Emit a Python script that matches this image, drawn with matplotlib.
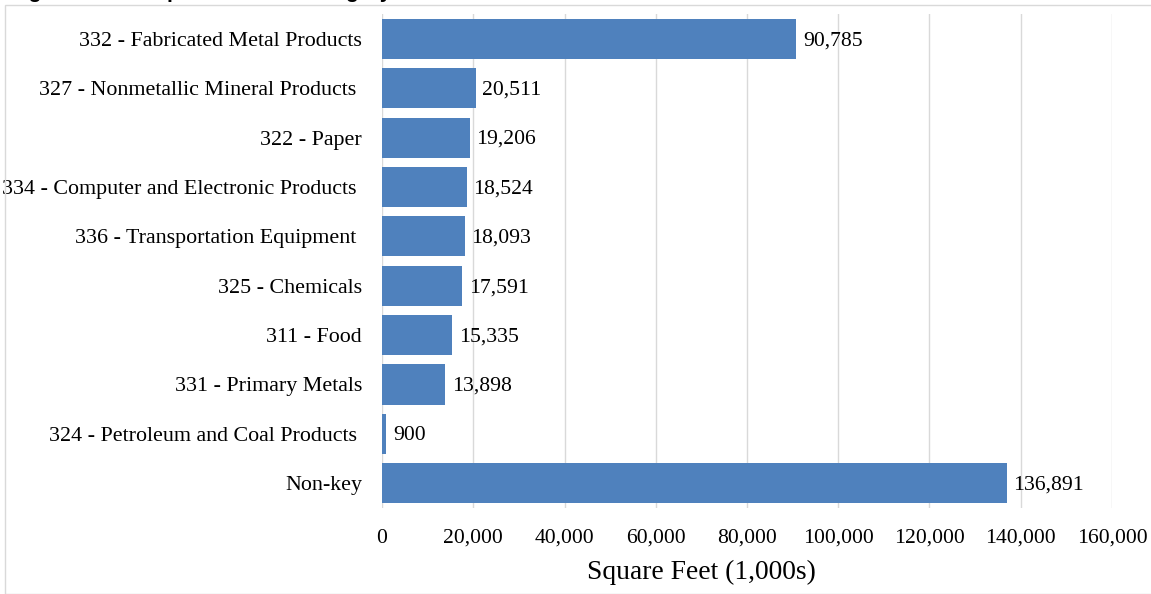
import matplotlib.pyplot as plt
from matplotlib.patches import Rectangle
from matplotlib.ticker import FuncFormatter

categories = [
    "332 - Fabricated Metal Products",
    "327 - Nonmetallic Mineral Products ",
    "322 - Paper",
    "334 - Computer and Electronic Products ",
    "336 - Transportation Equipment ",
    "325 - Chemicals",
    "311 - Food",
    "331 - Primary Metals",
    "324 - Petroleum and Coal Products ",
    "Non-key",
]
floorspace = [90785, 20511, 19206, 18524, 18093, 17591, 15335, 13898, 900, 136891]
x_ticks = [0, 20000, 40000, 60000, 80000, 100000, 120000, 140000, 160000]

title_text = "Figure 3. Floorspace in Each Category"
x_label = "Square Feet (1,000s)"

bar_color = "#4F81BD"
serif = ["Liberation Serif", "DejaVu Serif"]


def main() -> None:
    fig = plt.figure(figsize=(11.51, 5.94), dpi=100)
    ax = fig.add_axes([0.3319, 0.1448, 0.6342, 0.8316])

    # light frame round the chart, as in the exported sheet
    fig.patches.append(
        Rectangle((5 / 1151, 0), 1.0, 1 - 5 / 594, transform=fig.transFigure,
                  fill=False, edgecolor="#D9D9D9", linewidth=1.0)
    )

    # title sits mostly above the visible area, only its lower part shows
    fig.text(10 / 1151, 1 + 1.5 / 594, title_text, fontsize=15, fontweight="bold",
             family=["Liberation Sans", "DejaVu Sans"], va="baseline", ha="left")

    y_pos = list(range(len(categories)))
    ax.barh(y_pos, floorspace, height=0.81, color=bar_color, zorder=3)

    for y, value in zip(y_pos, floorspace):
        ax.text(value + 1500, y + 0.04, f"{value:,}", va="center", ha="left",
                fontsize=15.6, family=serif, zorder=4)

    ax.set_ylim(len(categories) - 0.5, -0.5)
    ax.set_xlim(0, 160000)
    ax.set_yticks(y_pos)
    ax.set_yticklabels(categories, family=serif, fontsize=15.8)
    ax.set_xticks(x_ticks)
    ax.xaxis.set_major_formatter(FuncFormatter(lambda v, _: f"{int(v):,}"))
    for label in ax.get_xticklabels():
        label.set_family(serif)
        label.set_fontsize(15.6)

    ax.tick_params(axis="y", length=0, pad=14.4)
    ax.tick_params(axis="x", length=0, pad=15)
    ax.grid(True, axis="x", color="#D9D9D9", linewidth=1.0, zorder=0)
    for spine in ax.spines.values():
        spine.set_visible(False)

    ax.set_xlabel(x_label, family=serif, fontsize=19.8, labelpad=6)
    ax.xaxis.set_label_coords(0.437, -0.105)

    fig.savefig("out.png", dpi=100)
    plt.close(fig)


if __name__ == "__main__":
    main()
